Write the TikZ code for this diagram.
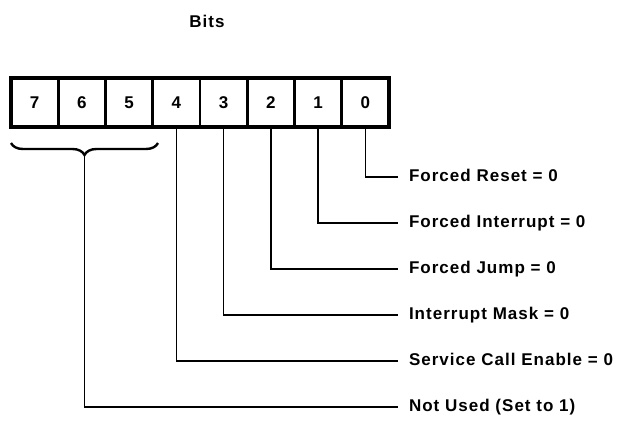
\documentclass[tikz,border=0pt]{standalone}
\usepackage{fontspec}
\setmainfont{Liberation Sans}
\usetikzlibrary{positioning, calc, decorations.pathreplacing}

\begin{document}
\begin{tikzpicture}[x=1pt, y=1pt,
    bitcell/.style={draw, line width=2.6pt, minimum width=47.25pt, minimum height=49pt,
      inner sep=0pt, outer sep=0pt, font=\fontsize{17}{20}\selectfont\bfseries},
    fieldlabel/.style={anchor=west, inner xsep=5pt, outer xsep=6pt, inner ysep=0pt,
      text height=12pt, text depth=3.5pt,
      font=\fontsize{17}{20}\selectfont\bfseries\addfontfeature{LetterSpace=6}},
    lead/.style={line width=1.7pt}]
  \useasboundingbox (0,0) rectangle (618,-426);
  \node[font=\fontsize{17}{20}\selectfont\bfseries\addfontfeature{LetterSpace=6}] (title) at (207,-21) {Bits};
  \node[bitcell] (b7) at (34.6,-102.5) {7};
  \foreach \i [remember=\i as \prev (initially 7)] in {6,...,0}
    \node[bitcell, right=0pt of b\prev] (b\i) {\i};
  \draw[line width=3.6pt] (b7.north west) rectangle (b0.south east);
  \foreach \y/\t [count=\k from 0] in {177/Forced Reset = 0, 223/Forced Interrupt = 0,
      269/Forced Jump = 0, 315/Interrupt Mask = 0, 361/Service Call Enable = 0,
      407/Not Used (Set to 1)}
    \node[fieldlabel] (lab\k) at (398,-\y) {\t};
  \foreach \k in {0,...,4}
    \draw[lead] (b\k.south) |- (lab\k.west);
  \coordinate (braceL) at (11,-143);
  \coordinate (braceR) at (158,-143);
  \draw[decorate, decoration={brace, amplitude=12pt}, line width=2.4pt] (braceR) -- (braceL);
  \coordinate (tip) at ($(braceL)!0.5!(braceR)+(0,-12)$);
  \draw[lead] (tip) |- (lab5.west);
\end{tikzpicture}
\end{document}
